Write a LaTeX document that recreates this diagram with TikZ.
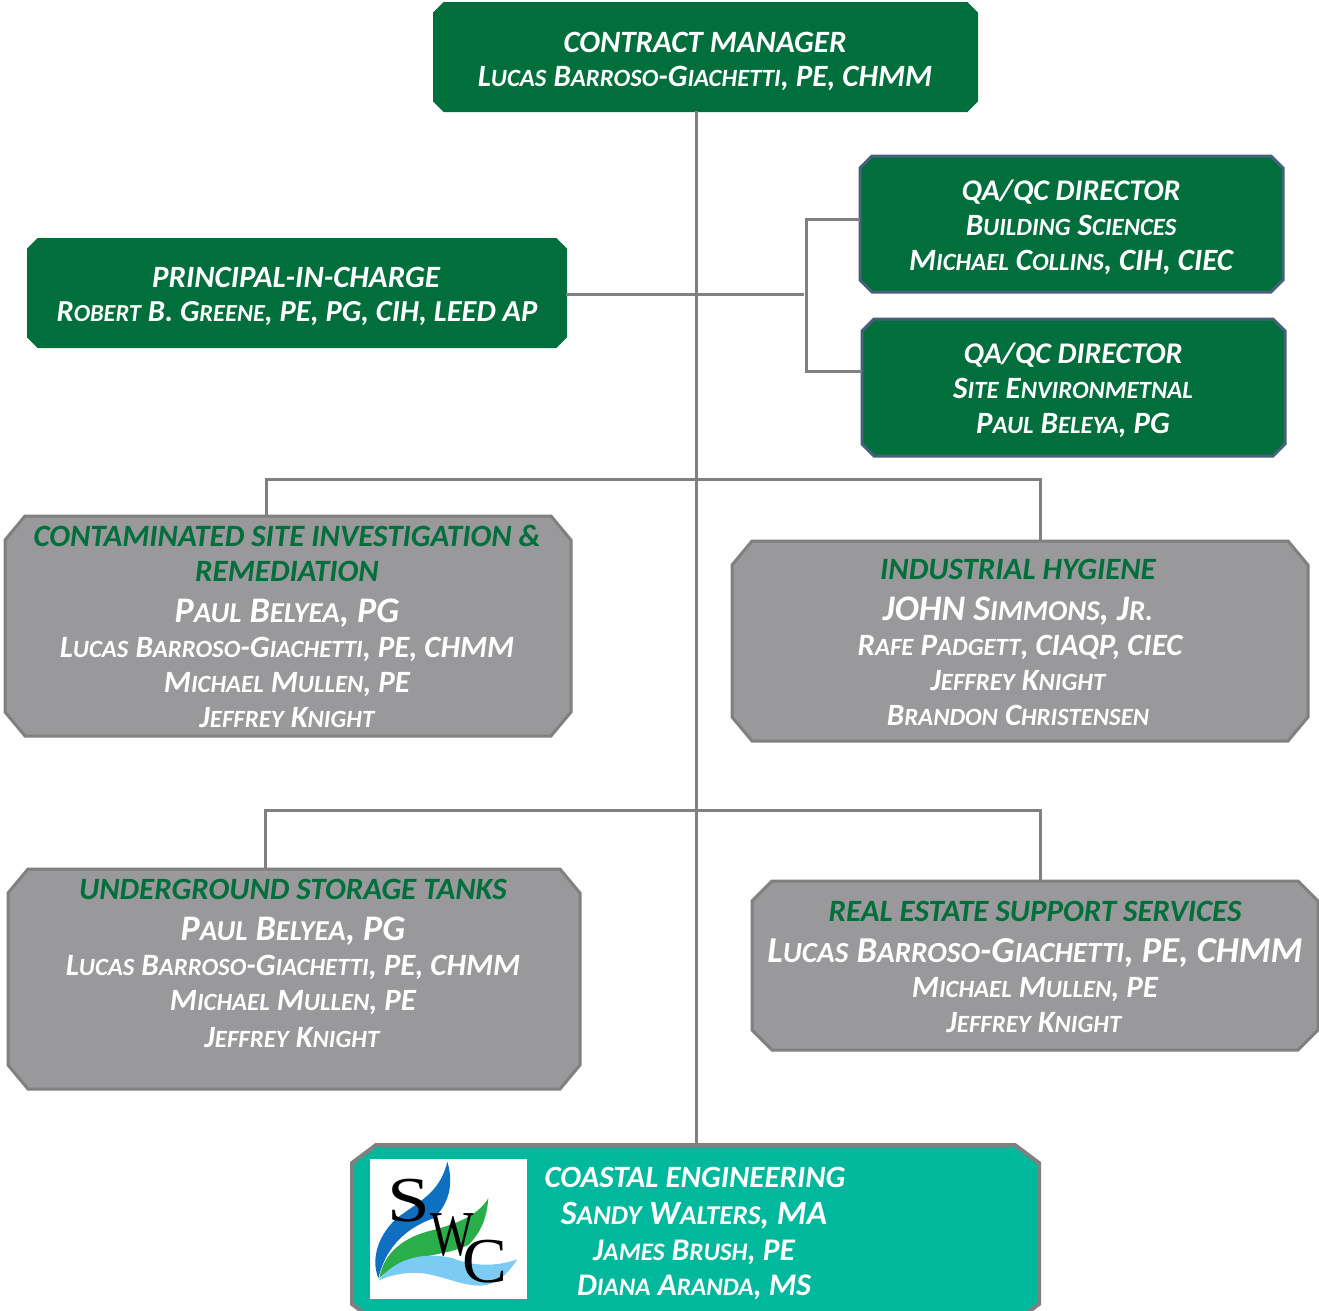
\documentclass[tikz,border=0pt]{standalone}
\usepackage{fontspec}
\setmainfont{Carlito}
\newfontface\bisc{Carlito Bold Italic}
\newfontface\biscsmall{Carlito Bold Italic}[Scale=0.8]
\newcommand{\s}[1]{{\biscsmall #1}}
\usetikzlibrary{calc}
\definecolor{dgreen}{HTML}{006F3C}
\definecolor{qaedge}{HTML}{46607A}
\definecolor{boxgray}{HTML}{99989A}
\definecolor{linegray}{HTML}{808080}
\definecolor{tealc}{HTML}{00B89C}
\definecolor{logoblue}{HTML}{0F6FC0}
\definecolor{logogreen}{HTML}{2AAE4A}
\definecolor{logosky}{HTML}{7CCBF3}
\tikzset{
 greenbox/.style={fill=dgreen,draw=dgreen,line width=2pt},
 qabox/.style={fill=dgreen,draw=qaedge,line width=3pt},
 graybox/.style={fill=boxgray,draw=linegray,line width=3pt},
 tealbox/.style={fill=tealc,draw=linegray,line width=4pt},
 conn/.style={draw=linegray,line width=3pt},
 txt/.style={inner sep=0pt,outer sep=0pt,anchor=base,text=white,font=\fontsize{#1}{#1}\bisc},
 grn/.style={txt=#1,text=dgreen},
 logoletter/.style={inner sep=0pt,text=black,font=\fontspec{Liberation Serif}\fontsize{64}{64}\selectfont},
}
% style, name, x1, y1, x2, y2, chamfer x, chamfer y
\newcommand{\chbox}[8]{%
 \path[#1] (#3+#7,#4) -- (#5-#7,#4) -- (#5,#4+#8) -- (#5,#6-#8) -- (#5-#7,#6) -- (#3+#7,#6) -- (#3,#6-#8) -- (#3,#4+#8) -- cycle;
 \path (#3,#4) -- (#5,#6) node[pos=.5,inner sep=0pt,outer sep=0pt,minimum width=#5pt-#3pt,minimum height=#6pt-#4pt] (#2) {};
}
\begin{document}
\begin{tikzpicture}[x=1pt,y=-1pt]
\useasboundingbox (0,0) rectangle (1319,1310);
\clip (0,0) rectangle (1319,1310);
% boxes
\chbox{greenbox}{cm}{434}{3}{977}{111}{10}{10}
\chbox{greenbox}{pic}{28}{239}{566}{347}{10}{10}
\chbox{qabox}{qa1}{860}{156}{1283}{292}{12}{12}
\chbox{qabox}{qa2}{862}{319}{1285}{456}{12}{12}
\chbox{graybox}{csi}{5}{516}{571}{736}{20}{24}
\chbox{graybox}{ih}{732}{541}{1308}{741}{20}{24}
\chbox{graybox}{ust}{8}{869}{580}{1089}{20}{24}
\chbox{graybox}{re}{752}{881}{1318}{1050}{20}{20}
\chbox{tealbox}{ce}{352}{1145}{1039}{1322}{24}{18}
% connectors
\coordinate (ttop) at (696,111);
\coordinate (picj) at (804,294);
\coordinate (bktop) at (806,219);
\coordinate (bkbot) at (806,371);
\draw[conn] (cm.south -| ttop) -- (ce.north -| ttop);
\draw[conn] (pic.east |- picj) -- (picj);
\draw[conn] (qa1.west |- bktop) -- (bktop) -- (bkbot) -- (qa2.west |- bkbot);
\coordinate (r1l) at (266,479);
\coordinate (r1r) at (1040,479);
\coordinate (r2l) at (265,810);
\coordinate (r2r) at (1040,810);
\draw[conn] (csi.north -| r1l) -- (r1l) -- (r1r) -- (ih.north -| r1r);
\draw[conn] (ust.north -| r2l) -- (r2l) -- (r2r) -- (re.north -| r2r);
% texts
\node[txt=31] (cm1) at (705,52) {CONTRACT MANAGER};
\node[txt=31] (cm2) at (705,86) {L\s{UCAS} B\s{ARROSO}-G\s{IACHETTI}, PE, CHMM};
\node[txt=31] (pic1) at (296,287) {PRINCIPAL-IN-CHARGE};
\node[txt=30.5] (pic2) at (297,321) {R\s{OBERT} B. G\s{REENE}, PE, PG, CIH, LEED AP};
\node[txt=30] (q11) at (1071,200) {QA/QC DIRECTOR};
\node[txt=31] (q12) at (1071,235) {B\s{UILDING} S\s{CIENCES}};
\node[txt=31] (q13) at (1071,270) {M\s{ICHAEL} C\s{OLLINS}, CIH, CIEC};
\node[txt=30] (q21) at (1073,363) {QA/QC DIRECTOR};
\node[txt=31] (q22) at (1073,398) {S\s{ITE} E\s{NVIRONMETNAL}};
\node[txt=31] (q23) at (1073,433) {P\s{AUL} B\s{ELEYA}, PG};
\node[grn=31] (c1) at (287,546) {CONTAMINATED SITE INVESTIGATION \&};
\node[grn=31] (c2) at (287,581) {REMEDIATION};
\node[txt=36] (c3) at (287,622) {P\s{AUL} B\s{ELYEA}, PG};
\node[txt=31] (c4) at (287,657) {L\s{UCAS} B\s{ARROSO}-G\s{IACHETTI}, PE, CHMM};
\node[txt=31] (c5) at (287,692) {M\s{ICHAEL} M\s{ULLEN}, PE};
\node[txt=31] (c6) at (287,727) {J\s{EFFREY} K\s{NIGHT}};
\node[grn=31] (i1) at (1018,579) {INDUSTRIAL HYGIENE};
\node[txt=36] (i2) at (1018,620) {JOHN S\s{IMMONS}, J\s{R.}};
\node[txt=31] (i3) at (1020,655) {R\s{AFE} P\s{ADGETT}, CIAQP, CIEC};
\node[txt=31] (i4) at (1018,690) {J\s{EFFREY} K\s{NIGHT}};
\node[txt=31] (i5) at (1018,725) {B\s{RANDON} C\s{HRISTENSEN}};
\node[grn=31] (u1) at (293,899) {UNDERGROUND STORAGE TANKS};
\node[txt=36] (u2) at (293,940) {P\s{AUL} B\s{ELYEA}, PG};
\node[txt=31] (u3) at (293,975) {L\s{UCAS} B\s{ARROSO}-G\s{IACHETTI}, PE, CHMM};
\node[txt=31] (u4) at (293,1010) {M\s{ICHAEL} M\s{ULLEN}, PE};
\node[txt=31] (u5) at (292,1047) {J\s{EFFREY} K\s{NIGHT}};
\node[grn=31] (r1) at (1035,921) {REAL ESTATE SUPPORT SERVICES};
\node[txt=36.5] (r2) at (1035,962) {L\s{UCAS} B\s{ARROSO}-G\s{IACHETTI}, PE, CHMM};
\node[txt=31] (r3) at (1035,997) {M\s{ICHAEL} M\s{ULLEN}, PE};
\node[txt=31] (r4) at (1034,1032) {J\s{EFFREY} K\s{NIGHT}};
\node[txt=31] (e1) at (695,1187) {COASTAL ENGINEERING};
\node[txt=34] (e2) at (694,1224) {S\s{ANDY} W\s{ALTERS}, MA};
\node[txt=31.5] (e3) at (694,1260) {J\s{AMES} B\s{RUSH}, PE};
\node[txt=31.5] (e4) at (694,1295) {D\s{IANA} A\s{RANDA}, MS};
% logo
\fill[white] (370,1159) rectangle (527,1299);
\begin{scope}[shift={(340,1130)},x=0.3333pt,y=-0.3333pt]
\fill[logoblue] (322,95) .. controls (345,170) and (320,230) .. (280,265) .. controls (210,290) and (140,340) .. (115,445) .. controls (90,380) and (120,310) .. (170,265) .. controls (235,215) and (300,190) .. (322,95) -- cycle;
\fill[logogreen] (445,205) .. controls (440,270) and (420,310) .. (385,345) .. controls (300,385) and (190,370) .. (118,445) .. controls (130,370) and (190,320) .. (280,300) .. controls (350,280) and (410,260) .. (445,205) -- cycle;
\fill[logosky] (115,452) .. controls (170,380) and (260,365) .. (340,385) .. controls (400,410) and (470,410) .. (532,388) .. controls (510,420) and (490,450) .. (440,465) .. controls (380,475) and (320,440) .. (250,430) .. controls (200,425) and (150,435) .. (115,452) -- cycle;
\node[logoletter,xscale=1.2] (ls) at (207,212) {S};
\node[logoletter,xscale=.72] (lw) at (338,315) {W};
\node[logoletter,xscale=1.05] (lc) at (435,395) {C};
\end{scope}
\end{tikzpicture}
\end{document}
